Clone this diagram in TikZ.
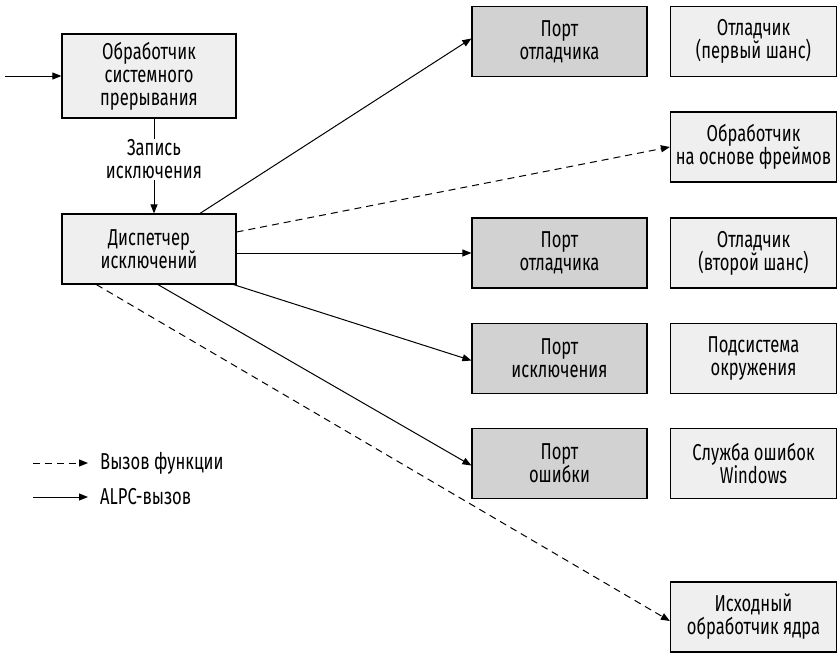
\documentclass[tikz,border=0pt]{standalone}
\usepackage{fontspec}
\setmainfont{Fira Sans}[FakeStretch=0.72]
\usetikzlibrary{arrows.meta}
\definecolor{boxlight}{HTML}{EFEFEF}
\definecolor{boxport}{HTML}{D2D2D2}
\begin{document}
\begin{tikzpicture}[x=1pt,y=-1pt,
  font=\fontsize{23}{23}\selectfont,
  box/.style={draw=black, line width=1.2pt, fill=boxlight, align=center,
    minimum height=70pt, inner sep=0pt},
  port/.style={box, fill=boxport, minimum width=175pt},
  target/.style={box, minimum width=166pt},
  link/.style={line width=1pt, -{Triangle[length=9pt,width=7pt]}},
  call/.style={link, dash pattern=on 7pt off 5pt}]
\useasboundingbox (0,0) rectangle (837,653);

% kernel side
\node[box, minimum width=174pt, minimum height=84pt] (trap) at (149,76)
  {Обработчик\\системного\\прерывания};
\node[box, minimum width=174pt] (disp) at (149,249)
  {Диспетчер\\исключений};

% ALPC ports
\node[port] (dbg1) at (559.5,41.5) {Порт\\отладчика};
\node[port] (dbg2) at (559.5,253) {Порт\\отладчика};
\node[port] (exc) at (559.5,358.5) {Порт\\исключения};
\node[port] (err) at (559.5,463.5) {Порт\\ошибки};

% receivers
\node[target] (first) at (753.5,41.5) {Отладчик\\(первый шанс)};
\node[target] (frame) at (753.5,147) {Обработчик\\на основе фреймов};
\node[target] (second) at (753.5,253) {Отладчик\\(второй шанс)};
\node[target] (envsub) at (753.5,358.5) {Подсистема\\окружения};
\node[target] (wer) at (753.5,463.5) {Служба ошибок\\Windows};
\node[target] (kdef) at (753.5,617) {Исходный\\обработчик ядра};

% trap entry and exception record
\coordinate (entry) at (5,76);
\draw[link] (entry) -- (trap.west);
\draw[link] ([xshift=5pt]trap.south) --
  node[pos=0.43, fill=white, inner sep=1pt, align=center]
  {Запись\\исключения} ([xshift=5pt]disp.north);

% dispatcher outputs
\draw[link] ([xshift=51pt]disp.north) -- ([yshift=3pt]dbg1.west);
\draw[call] ([yshift=17pt]disp.east) -- (frame.west);
\draw[link] (disp.east |- dbg2.west) -- (dbg2.west);
\draw[link] ([xshift=-3pt]disp.south east) -- ([yshift=-2pt]exc.west);
\draw[link] ([xshift=9pt]disp.south) -- ([yshift=-2pt]err.west);
\draw[call] ([xshift=35pt]disp.south west) -- ([yshift=-4pt]kdef.west);

% legend
\coordinate (lgA0) at (33,463);
\coordinate (lgA1) at (88,463);
\coordinate (lgB0) at (33,497);
\coordinate (lgB1) at (88,497);
\draw[call] (lgA0) -- (lgA1);
\node[anchor=west, inner sep=0pt] (lgAt) at (100,463) {Вызов функции};
\draw[link] (lgB0) -- (lgB1);
\node[anchor=west, inner sep=0pt] (lgBt) at (100,497) {ALPC-вызов};
\end{tikzpicture}
\end{document}
